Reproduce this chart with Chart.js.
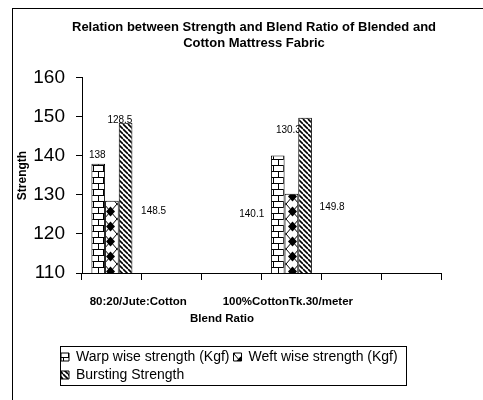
<!DOCTYPE html>
<html lang="en">

<head>
  <meta charset="UTF-8">
  <meta name="viewport" content="width=device-width, initial-scale=1.0">
  <title>Strength and Blend Ratio</title>
  <style>
    html, body { margin: 0; background: #fff; overflow: hidden; }
    /* the Excel chart frame runs off the right and bottom of the shot */
    #frame { position: absolute; left: 12px; top: 8px; width: 482px; height: 400px; border: 1px solid #000; }
  </style>
</head>

<body>
  <div id="frame"><canvas id="chart"></canvas></div>
  <script src="https://cdn.jsdelivr.net/npm/chart.js@4/dist/chart.umd.min.js"></script>
  <script>
    const blends = ['80:20/Jute:Cotton', '', '', '100%CottonTk.30/meter', '', '']
    const warp = [138, null, null, 140.1, null, null]
    const weft = [128.5, null, null, 130.3, null, null]
    const bursting = [148.5, null, null, 149.8, null, null]
    const strengthTicks = [110, 120, 130, 140, 150, 160]
    const axisTexts = [blends[0], ['', 'Blend Ratio'], blends[3]]

    Chart.defaults.font.family = "'Liberation Sans', Arial, sans-serif"
    Chart.defaults.color = '#000'

    // small fill tiles like the Excel hatch patterns
    function tile(w, h, paint) {
      const c = document.createElement('canvas')
      c.width = w
      c.height = h
      const g = c.getContext('2d')
      g.fillStyle = '#fff'
      g.fillRect(0, 0, w, h)
      g.fillStyle = '#000'
      g.strokeStyle = '#000'
      paint(g)
      return g.createPattern(c, 'repeat')
    }
    const brick = tile(10, 12, g => {
      g.fillRect(0, 0, 10, 1)
      g.fillRect(0, 6, 10, 1)
      g.fillRect(0, 0, 1, 6)
      g.fillRect(5, 6, 1, 6)
    })
    const diamond = tile(13, 15, g => {
      g.lineWidth = 1
      g.beginPath()
      g.moveTo(0, 0); g.lineTo(13, 15)
      g.moveTo(13, 0); g.lineTo(0, 15)
      g.stroke()
      g.beginPath()
      g.moveTo(6.5, 2.5); g.lineTo(11, 7.5); g.lineTo(6.5, 12.5); g.lineTo(2, 7.5)
      g.closePath()
      g.fill()
    })
    const stripes = tile(5, 5, g => {
      g.lineWidth = 1.6
      g.beginPath()
      for (const c of [-5, 0, 5]) { g.moveTo(0, c); g.lineTo(5, 5 + c) }
      g.stroke()
    })

    // where Excel left each value label, relative to the top of its bar
    const labelNudge = [
      [[-1, -9], null, null, [-26, 59]],
      [[8, -81], null, null, [-3, -64]],
      [[28, 88], null, null, [27, 89]]
    ]
    const valueLabels = {
      id: 'valueLabels',
      beforeDatasetsDraw(chart) {
        const ctx = chart.ctx
        ctx.save()
        ctx.font = "10px 'Liberation Sans', Arial, sans-serif"
        ctx.fillStyle = '#000'
        ctx.textAlign = 'center'
        ctx.textBaseline = 'middle'
        chart.data.datasets.forEach((ds, i) => {
          chart.getDatasetMeta(i).data.forEach((bar, j) => {
            if (ds.data[j] == null) return
            const [dx, dy] = labelNudge[i][j]
            ctx.fillText(String(ds.data[j]), bar.x + dx, bar.y + dy)
          })
        })
        ctx.restore()
      }
    }

    const legendFrame = {
      id: 'legendFrame',
      afterLayout(chart) {
        // key sits a little left of the plot, rows flush left
        chart.legend.left -= 25
        chart.legend.right -= 25
      },
      afterDraw(chart) {
        const boxes = chart.legend.legendHitBoxes
        if (!boxes || !boxes.length) return
        const l = Math.min(...boxes.map(b => b.left)) - 1
        const t = Math.min(...boxes.map(b => b.top)) - 4
        const r = Math.max(...boxes.map(b => b.left + b.width)) + 8
        const b = Math.max(...boxes.map(b => b.top + b.height)) + 3
        const ctx = chart.ctx
        ctx.save()
        ctx.strokeStyle = '#000'
        ctx.lineWidth = 1
        ctx.strokeRect(Math.round(l) + 0.5, Math.round(t) + 0.5, Math.round(r - l), Math.round(b - t))
        ctx.restore()
      }
    }

    const bar = { borderColor: '#000', borderWidth: 1, xAxisID: 'x', yAxisID: 'y' }

    new Chart(document.getElementById('chart'), {
      type: 'bar',
      data: {
        labels: blends,
        datasets: [
          { ...bar, label: 'Warp wise strength (Kgf)', data: warp, backgroundColor: brick },
          { ...bar, label: 'Weft wise strength (Kgf)', data: weft, backgroundColor: diamond },
          { ...bar, label: 'Bursting Strength', data: bursting, backgroundColor: stripes }
        ]
      },
      options: {
        animation: false,
        responsive: true,
        maintainAspectRatio: false,
        events: [],
        layout: { padding: { left: 0, right: 0, top: 0, bottom: 17 } },
        datasets: { bar: { categoryPercentage: 0.685, barPercentage: 1 } },
        scales: {
          x: {
            position: 'bottom',
            ticks: { display: false },
            grid: { offset: true, drawOnChartArea: false, tickLength: 7, color: '#000' },
            border: { color: '#000' },
            afterFit: s => { s.height = 7 }
          },
          names: {
            type: 'linear',
            position: 'bottom',
            weight: 1,
            offset: false,
            min: 0,
            max: blends.length,
            grid: { display: false, drawTicks: false, offset: false },
            border: { display: false },
            ticks: {
              autoSkip: false,
              maxRotation: 0,
              padding: 13.5,
              font: { size: 11.5, weight: 'bold', lineHeight: 1.48 },
              callback: (v, i) => axisTexts[i]
            },
            afterBuildTicks: s => { s.ticks = [0.94, 2.34, 3.44].map(value => ({ value })) },
            afterFit: s => { s.height = 66 }
          },
          y: {
            position: 'left',
            min: strengthTicks[0],
            max: strengthTicks[strengthTicks.length - 1],
            ticks: { padding: 11, font: { size: 19 } },
            afterBuildTicks: s => { s.ticks = strengthTicks.map(value => ({ value })) },
            grid: { drawOnChartArea: false, tickLength: 6, color: '#000' },
            border: { color: '#000' },
            title: {
              display: true,
              text: 'Strength',
              font: { size: 12, weight: 'bold' },
              padding: { top: 2, bottom: 0 }
            },
            afterFit: s => { s.width = 69 }
          },
          // empty room on the right of the plot, as in the Excel sheet
          room: {
            type: 'linear',
            position: 'right',
            ticks: { display: false },
            grid: { display: false },
            border: { display: false },
            afterFit: s => { s.width = 54 }
          }
        },
        plugins: {
          title: {
            display: true,
            text: ['Relation between Strength and Blend Ratio of Blended and', 'Cotton Mattress Fabric'],
            font: { size: 13, weight: 'bold', lineHeight: 1.23 },
            color: '#000',
            padding: { top: 10, bottom: 27 }
          },
          legend: {
            position: 'bottom',
            align: 'start',
            fullSize: false,
            labels: {
              boxWidth: 8,
              boxHeight: 8,
              padding: 4,
              color: '#000',
              font: { size: 14 }
            }
          },
          tooltip: { enabled: false }
        }
      },
      plugins: [valueLabels, legendFrame]
    })
  </script>
</body>

</html>
